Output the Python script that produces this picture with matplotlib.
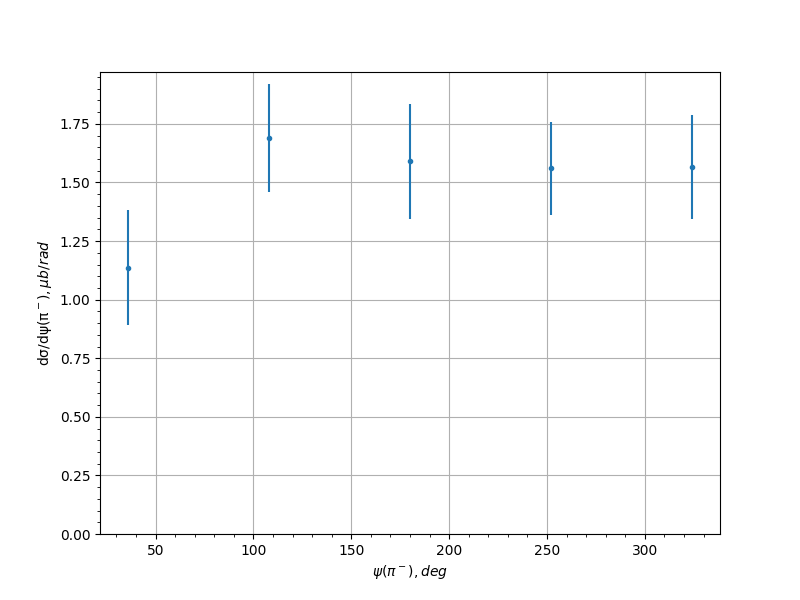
import matplotlib
matplotlib.use("Agg")
import matplotlib.pyplot as plt

psi = [36, 108, 180, 252, 324]
xsec = [1.137, 1.689, 1.590, 1.560, 1.565]
xsec_err = [0.246, 0.231, 0.245, 0.199, 0.222]

fig, ax = plt.subplots(figsize=(8, 6), dpi=100)
ax.errorbar(psi, xsec, yerr=xsec_err, fmt='.')
ax.set_ylim(bottom=0)
ax.minorticks_on()
ax.grid(which='major')
ax.set_xlabel(r'$\psi(\pi^-), deg$')
ax.set_ylabel(r'dσ/dψ(π$^-$)$, \mu b/rad$')
fig.savefig("out.png")
